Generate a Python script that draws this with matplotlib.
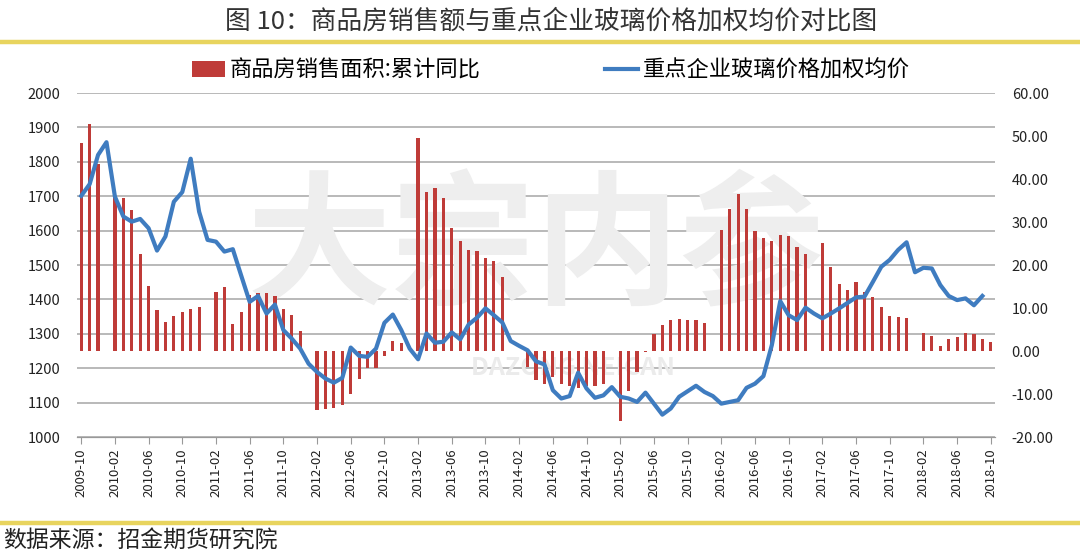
import numpy as np
import pandas as pd
import matplotlib
matplotlib.use('Agg')
import matplotlib.pyplot as plt
from matplotlib.lines import Line2D
from matplotlib.patches import Patch

plt.rcParams['font.family'] = ['Noto Sans CJK SC', 'DejaVu Sans']

# monthly categories 2009-10 .. 2018-10
months = [p.strftime('%Y-%m') for p in pd.period_range('2009-10', '2018-10', freq='M')]

# 商品房销售面积:累计同比 (%), no January value
area_yoy = (
    [48.3, 52.9, 43.5] +
    [None, 36.0, 35.5, 32.8, 22.6, 15.2, 9.5, 6.7, 8.1, 9.0, 9.8, 10.2] +
    [None, 13.8, 15.0, 6.2, 9.0, 13.0, 13.4, 13.5, 12.9, 9.8, 8.4, 4.7] +
    [None, -13.8, -13.6, -13.2, -12.5, -9.9, -6.4, -3.9, -3.9, -1.1, 2.3, 1.8] +
    [None, 49.5, 37.0, 38.0, 35.6, 28.6, 25.5, 23.4, 23.3, 21.7, 20.9, 17.3] +
    [None, -0.1, -3.8, -6.7, -7.7, -6.0, -7.6, -8.2, -8.5, -8.1, -8.2, -7.6] +
    [None, -16.2, -9.2, -4.8, -0.2, 4.0, 6.0, 7.2, 7.4, 7.2, 7.2, 6.4] +
    [None, 28.2, 33.1, 36.5, 33.1, 27.9, 26.3, 25.5, 26.9, 26.8, 24.2, 22.5] +
    [None, 25.1, 19.5, 15.7, 14.3, 16.0, 13.8, 12.6, 10.3, 8.2, 7.9, 7.6] +
    [None, 4.1, 3.6, 1.2, 2.8, 3.2, 4.1, 4.0, 2.8, 2.2]
)

# 重点企业玻璃价格加权均价 (元/吨)
glass_price = (
    [1701, 1735, 1820] +
    [1857, 1699, 1641, 1626, 1634, 1607, 1542, 1583, 1684, 1712, 1809, 1655] +
    [1573, 1568, 1539, 1546, 1469, 1393, 1410, 1359, 1385, 1311, 1286, 1257] +
    [1213, 1189, 1170, 1158, 1172, 1260, 1236, 1233, 1257, 1332, 1356, 1311] +
    [1257, 1226, 1301, 1274, 1277, 1304, 1284, 1327, 1347, 1374, 1354, 1333] +
    [1279, 1265, 1252, 1220, 1211, 1136, 1112, 1119, 1187, 1141, 1114, 1121] +
    [1145, 1117, 1112, 1102, 1129, 1097, 1065, 1083, 1117, 1133, 1149, 1131] +
    [1119, 1097, 1102, 1107, 1143, 1155, 1177, 1267, 1395, 1354, 1340, 1376] +
    [1359, 1345, 1359, 1374, 1390, 1406, 1408, 1451, 1495, 1515, 1544, 1566] +
    [1479, 1492, 1490, 1442, 1410, 1398, 1403, 1383, 1410, None]
)

left_ticks = [1000, 1100, 1200, 1300, 1400, 1500, 1600, 1700, 1800, 1900, 2000]
right_ticks = [-20, -10, 0, 10, 20, 30, 40, 50, 60]

x = np.arange(len(months))
bars = np.array([np.nan if v is None else v for v in area_yoy], dtype=float)
line = np.array([np.nan if v is None else v for v in glass_price], dtype=float)

fig = plt.figure(figsize=(10.8, 5.56), dpi=100)
ax = fig.add_axes([0.0713, 0.214, 0.8500, 0.6187])   # bars, right axis
ax2 = ax.twinx()                                      # line, left axis

# gridlines follow the left axis ticks
for v in left_ticks:
    r = -20 + (v - 1000) / 1000 * 80
    ax.axhline(r, color='#A6A6A6', lw=1.1, zorder=0)

# watermark
ax.text(0.50, 0.54, '大宗内参', transform=ax.transAxes, fontsize=104, fontweight='bold',
        color='#EEEEEE', ha='center', va='center', zorder=0.5)
ax.text(0.54, 0.20, 'DAZONG NEICAN', transform=ax.transAxes, fontsize=18, fontweight='bold',
        color='#EBEBEB', ha='center', va='center', zorder=0.5)

ax.bar(x, bars, width=0.38, color='#BF3B38', zorder=2)
ax.set_ylim(-20, 60)
ax.set_yticks(right_ticks)
ax.set_yticklabels(['%.2f' % t for t in right_ticks])
ax.yaxis.tick_right()
ax.set_xlim(-0.5, len(months) - 0.5)

ax2.plot(x, line, color='#3F7CC0', lw=3.0, solid_joinstyle='round', zorder=3)
ax2.set_ylim(1000, 2000)
ax2.set_yticks(left_ticks)
ax2.yaxis.tick_left()

ax.set_xticks(x[::4])
ax.set_xticklabels(months[::4], rotation=90, fontsize=9.5, color='#222222')

for a in (ax, ax2):
    for s in ('left', 'right', 'top'):
        a.spines[s].set_visible(False)
    a.spines['bottom'].set_color('#999999')
ax.tick_params(axis='x', length=5, color='#999999', pad=3)
ax.tick_params(axis='y', length=0, labelsize=10.5, labelcolor='#222222', pad=12)
ax2.tick_params(axis='y', length=0, labelsize=10.5, labelcolor='#222222', pad=12)

# title, legend, frame lines, source
fig.text(0.51, 0.962, '图 10：商品房销售额与重点企业玻璃价格加权均价对比图',
         ha='center', va='center', fontsize=18.5, color='#333333')
fig.add_artist(Line2D([0, 1], [0.924, 0.924], transform=fig.transFigure,
                      color='#E8D45E', lw=3.2))
fig.add_artist(Line2D([0, 1], [0.059, 0.059], transform=fig.transFigure,
                      color='#E8D45E', lw=3.2))
handles = [Patch(facecolor='#BF3B38'), Line2D([0], [0], color='#3F7CC0', lw=3)]
fig.legend(handles, ['商品房销售面积:累计同比', '重点企业玻璃价格加权均价'],
           loc='center', bbox_to_anchor=(0.51, 0.874), ncol=2, frameon=False,
           fontsize=16, handlelength=1.5, handletextpad=0.2, columnspacing=5.6)
fig.text(0.003, 0.027, '数据来源：招金期货研究院', ha='left', va='center',
         fontsize=16.5, color='#222222', style='italic')

fig.savefig('out.png', dpi=100)
